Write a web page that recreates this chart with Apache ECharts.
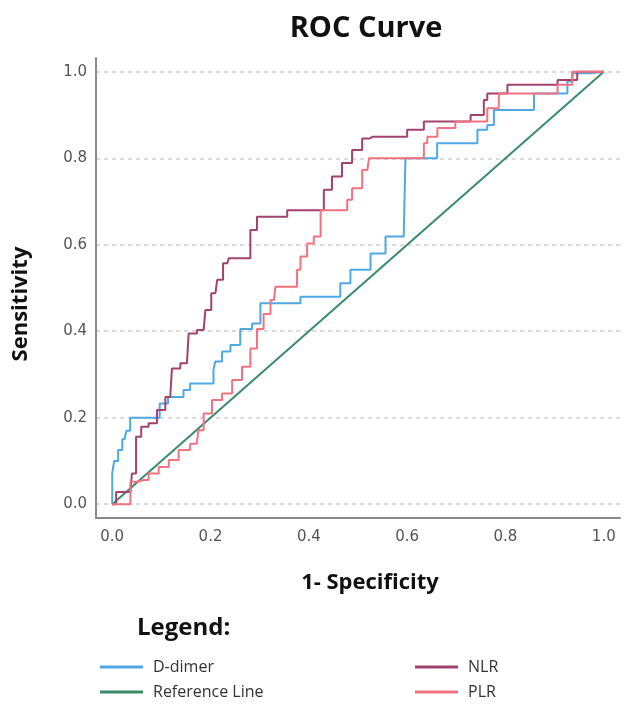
<!DOCTYPE html>
<html>
<head>
<meta charset="utf-8">
<script src="https://cdn.jsdelivr.net/npm/echarts@6/dist/echarts.min.js"></script>
<style>
html,body{margin:0;padding:0;background:#fff;}
#chart{width:625px;height:706px;}
</style>
</head>
<body>
<div id="chart"></div>
<script>
// ---- data (x = 1 - specificity, y = sensitivity) ----
var tickValues = [0, 0.2, 0.4, 0.6, 0.8, 1.0];
var seriesNames = ['D-dimer', 'Reference Line', 'NLR', 'PLR'];

var ddimer = [[0,0],[0,0.072],[0.008,0.1],[0.016,0.125],[0.025,0.15],[0.033,0.17],[0.04,0.2],[0.088,0.2],[0.105,0.233],[0.122,0.248],[0.145,0.248],
  [0.145,0.264],[0.172,0.279],[0.206,0.279],[0.206,0.31],[0.213,0.33],[0.234,0.353],[0.247,0.368],[0.274,0.405],
  [0.295,0.418],[0.308,0.465],[0.383,0.465],[0.383,0.48],[0.464,0.48],[0.464,0.511],[0.505,0.542],[0.546,0.58],
  [0.566,0.619],[0.593,0.619],[0.6,0.8],[0.661,0.8],[0.661,0.835],[0.743,0.835],[0.743,0.866],[0.763,0.866],
  [0.763,0.877],[0.79,0.912],[0.858,0.912],[0.858,0.95],[0.926,0.95],[0.926,0.978],[0.946,0.997],[1,1]];

var reference = [[0,0],[1,1]];

var nlr = [[0,0],[0.016,0.028],[0.037,0.028],[0.043,0.071],[0.054,0.156],[0.064,0.179],[0.084,0.187],[0.098,0.218],
  [0.118,0.248],[0.125,0.314],[0.152,0.326],[0.159,0.395],[0.186,0.403],[0.193,0.449],[0.21,0.488],[0.217,0.519],
  [0.234,0.557],[0.24,0.569],[0.281,0.569],[0.281,0.634],[0.308,0.665],[0.356,0.665],[0.356,0.68],[0.424,0.68],
  [0.437,0.727],[0.457,0.758],[0.478,0.789],[0.498,0.819],[0.519,0.846],[0.53,0.85],[0.6,0.85],[0.6,0.866],
  [0.634,0.866],[0.634,0.885],[0.729,0.885],[0.729,0.9],[0.756,0.9],[0.756,0.935],[0.77,0.95],[0.804,0.95],
  [0.804,0.97],[0.906,0.97],[0.906,0.981],[0.946,0.981],[0.946,1],[1,1]];

var plr = [[0,0],[0.037,0],[0.037,0.052],[0.064,0.056],[0.084,0.071],[0.105,0.086],[0.125,0.102],[0.145,0.125],
  [0.172,0.14],[0.179,0.171],[0.193,0.21],[0.213,0.241],[0.234,0.256],[0.254,0.287],[0.274,0.318],[0.288,0.36],
  [0.301,0.405],[0.315,0.44],[0.329,0.472],[0.335,0.503],[0.376,0.503],[0.376,0.542],[0.39,0.573],[0.403,0.603],
  [0.417,0.619],[0.431,0.68],[0.478,0.68],[0.478,0.704],[0.498,0.731],[0.519,0.773],[0.526,0.8],[0.634,0.8],
  [0.634,0.835],[0.648,0.85],[0.675,0.87],[0.698,0.87],[0.698,0.885],[0.763,0.885],[0.763,0.916],[0.81,0.95],
  [0.906,0.95],[0.906,0.97],[0.926,0.97],[0.946,1],[1,1]];

// ---- chart ----
var colors = {
  'D-dimer': '#4ea8e6',
  'Reference Line': '#3a8a6c',
  'NLR': '#a2426f',
  'PLR': '#f3727f'
};
var chart = echarts.init(document.getElementById('chart'), null, {renderer: 'canvas'});

function axisCommon() {
  return {
    type: 'value',
    min: -0.033,
    max: 1.033,
    axisLine: {show: true, onZero: false, lineStyle: {color: '#8a8a8a', width: 2}},
    axisTick: {show: false, customValues: tickValues},
    axisLabel: {
      customValues: tickValues,
      formatter: function (v) { return v.toFixed(1); },
      color: '#555',
      fontFamily: 'DejaVu Sans',
      fontSize: 15
    }
  };
}

var xAxis = axisCommon();
xAxis.axisLabel.margin = 12;
xAxis.splitLine = {show: false};

var yAxis = axisCommon();
yAxis.min = -0.032;
yAxis.max = 1.032;
yAxis.axisLabel.margin = 9;
yAxis.splitLine = {show: true, lineStyle: {color: '#cfcfcf', width: 1.5, type: [4, 4]}};

function lineSeries(name, data, width, step) {
  return {
    name: name,
    type: 'line',
    data: data,
    showSymbol: false,
    symbol: 'none',
    smooth: false,
    step: step,
    animation: false,
    lineStyle: {color: colors[name], width: width},
    itemStyle: {color: colors[name]},
    z: name === 'Reference Line' ? 2 : 3
  };
}

var legendText = {fontFamily: 'Open Sans', fontSize: 16, color: '#333', lineHeight: 20, padding: [0, 0, 0, 5]};

chart.setOption({
  backgroundColor: '#ffffff',
  animation: false,
  grid: {left: 96, top: 58, right: 5, bottom: 188, containLabel: false},
  xAxis: xAxis,
  yAxis: yAxis,
  legend: [
    {
      data: [seriesNames[0], seriesNames[1]],
      orient: 'vertical', left: 100, top: 657, padding: 0,
      itemWidth: 43, itemHeight: 3, itemGap: 5, icon: 'rect',
      textStyle: legendText, selectedMode: false
    },
    {
      data: [seriesNames[2], seriesNames[3]],
      orient: 'vertical', left: 415, top: 657, padding: 0,
      itemWidth: 43, itemHeight: 3, itemGap: 5, icon: 'rect',
      textStyle: legendText, selectedMode: false
    }
  ],
  graphic: [
    {type: 'text', x: 366, y: 29, style: {text: 'ROC Curve', fontFamily: 'Open Sans', fontWeight: 'bold', fontSize: 29, fill: '#111', align: 'center', verticalAlign: 'middle'}},
    {type: 'text', x: 21, y: 304, rotation: Math.PI / 2, style: {text: 'Sensitivity', fontFamily: 'Open Sans', fontWeight: 'bold', fontSize: 22, fill: '#111', align: 'center', verticalAlign: 'middle'}},
    {type: 'text', x: 370, y: 583, style: {text: '1- Specificity', fontFamily: 'Open Sans', fontWeight: 'bold', fontSize: 22, fill: '#111', align: 'center', verticalAlign: 'middle'}},
    {type: 'text', x: 137, y: 628, style: {text: 'Legend:', fontFamily: 'Open Sans', fontWeight: 'bold', fontSize: 24, fill: '#111', align: 'left', verticalAlign: 'middle'}}
  ],
  series: [
    lineSeries('D-dimer', ddimer, 2, 'middle'),
    lineSeries('Reference Line', reference, 2, false),
    lineSeries('NLR', nlr, 2, 'middle'),
    lineSeries('PLR', plr, 2, 'middle')
  ]
});
</script>
</body>
</html>
